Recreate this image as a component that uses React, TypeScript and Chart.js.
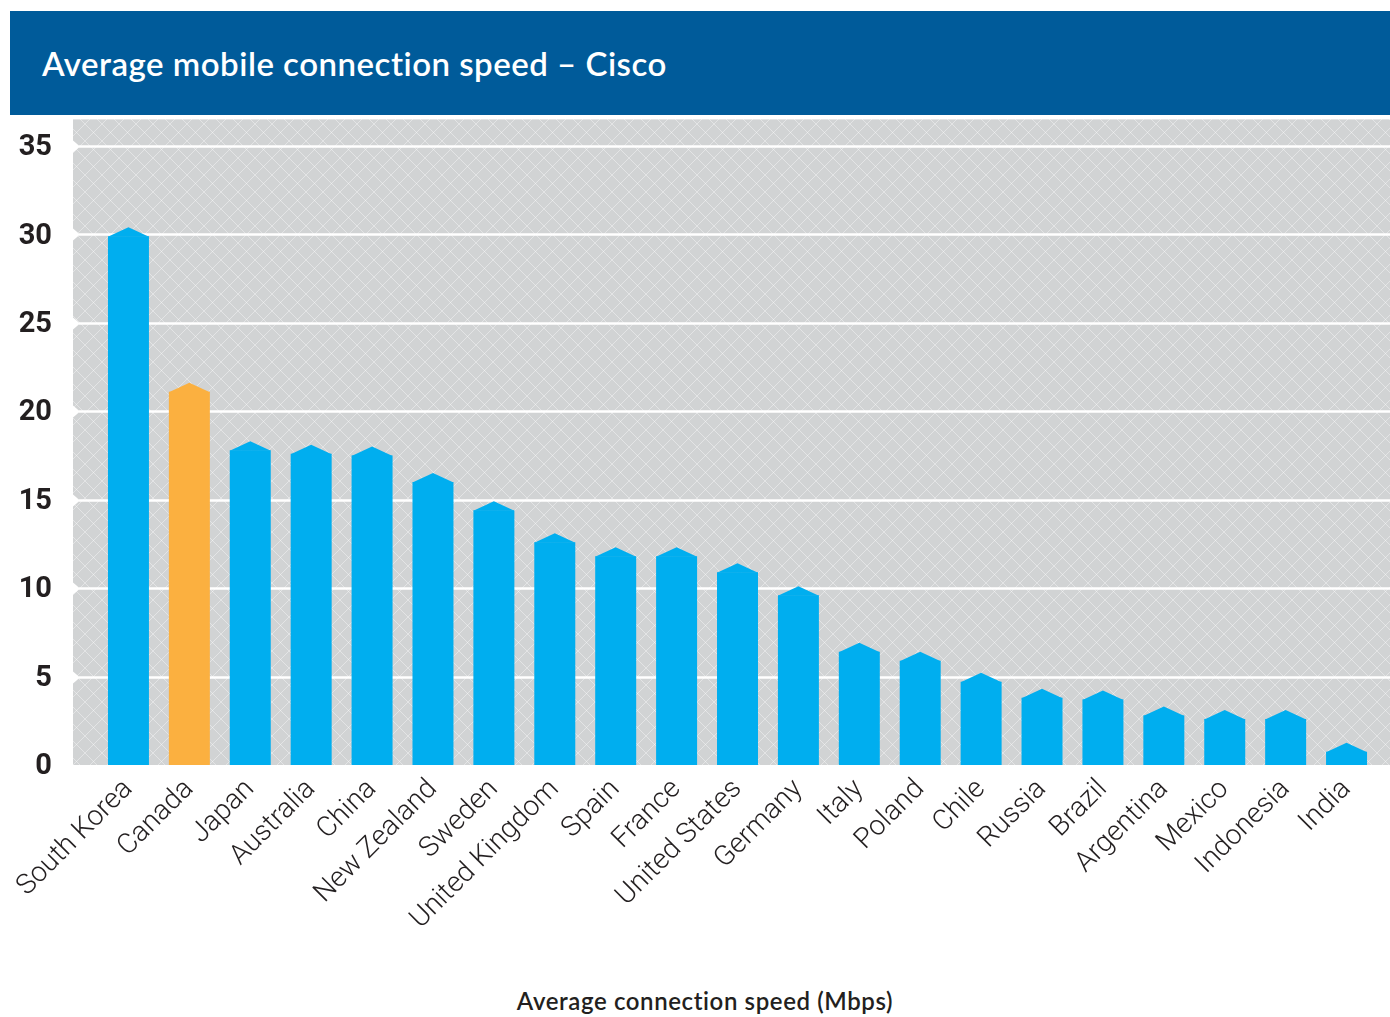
import React, { useEffect, useRef } from "react";
import { Chart, registerables } from "chart.js";

Chart.register(...registerables);

const TITLE = "Average mobile connection speed – Cisco";
const X_TITLE = "Average connection speed (Mbps)";
const countries = [
  "South Korea", "Canada", "Japan", "Australia", "China", "New Zealand", "Sweden",
  "United Kingdom", "Spain", "France", "United States", "Germany", "Italy", "Poland",
  "Chile", "Russia", "Brazil", "Argentina", "Mexico", "Indonesia", "India",
];
const speeds = [
  29.9, 21.1, 17.8, 17.6, 17.5, 16.0, 14.4, 12.6, 11.8, 11.8, 10.9, 9.6, 6.4, 5.9,
  4.7, 3.8, 3.7, 2.8, 2.6, 2.6, 0.75,
];
const highlight = "Canada";
const yMax = 36.5;
const yTicks = [0, 5, 10, 15, 20, 25, 30, 35];

const BLUE = "#00aeef";
const ORANGE = "#fbb040";
const barColors = countries.map((c) => (c === highlight ? ORANGE : BLUE));

function makePattern(ctx: CanvasRenderingContext2D) {
  const s = 17;
  const c = document.createElement("canvas");
  c.width = s;
  c.height = s;
  const p = c.getContext("2d")!;
  p.fillStyle = "#d1d3d4";
  p.fillRect(0, 0, s, s);
  p.strokeStyle = "rgba(255,255,255,0.4)";
  p.lineWidth = 1;
  p.beginPath();
  p.moveTo(0, 0);
  p.lineTo(s, s);
  p.moveTo(s, 0);
  p.lineTo(0, s);
  p.stroke();
  return ctx.createPattern(c, "repeat")!;
}

const bgPlugin = {
  id: "bgPlugin",
  beforeDraw(chart: any) {
    const { ctx, chartArea, scales } = chart;
    const left = chartArea.left - 25;
    const right = chart.width;
    ctx.save();
    ctx.fillStyle = makePattern(ctx);
    ctx.fillRect(left, chartArea.top, right - left, chartArea.bottom - chartArea.top);
    const ys = scales.y;
    ys.ticks.forEach((t: any) => {
      if (t.value === 0) return;
      const y = Math.round(ys.getPixelForValue(t.value)) + 0.5;
      ctx.strokeStyle = "#ffffff";
      ctx.lineWidth = 2.5;
      ctx.beginPath();
      ctx.moveTo(left + 6, y);
      ctx.lineTo(right, y);
      ctx.stroke();
      ctx.fillStyle = "#ffffff";
      ctx.beginPath();
      ctx.moveTo(left, y - 6);
      ctx.lineTo(left + 7, y);
      ctx.lineTo(left, y + 6);
      ctx.closePath();
      ctx.fill();
    });
    ctx.restore();
  },
};

const capPlugin = {
  id: "capPlugin",
  afterDatasetsDraw(chart: any) {
    const { ctx } = chart;
    const meta = chart.getDatasetMeta(0);
    ctx.save();
    meta.data.forEach((el: any, i: number) => {
      const { x, y, width } = el.getProps(["x", "y", "width"], true);
      ctx.fillStyle = barColors[i];
      ctx.beginPath();
      ctx.moveTo(x - width / 2, y + 0.5);
      ctx.lineTo(x, y - 9);
      ctx.lineTo(x + width / 2, y + 0.5);
      ctx.closePath();
      ctx.fill();
    });
    ctx.restore();
  },
};

function BarChart() {
  const ref = useRef<HTMLCanvasElement>(null);
  useEffect(() => {
    const chart = new Chart(ref.current!, {
      type: "bar",
      data: {
        labels: countries,
        datasets: [
          {
            data: speeds,
            backgroundColor: barColors,
            borderWidth: 0,
            barPercentage: 0.673,
            categoryPercentage: 1,
          },
        ],
      },
      options: {
        animation: false,
        responsive: false,
        maintainAspectRatio: false,
        layout: { padding: { left: 0, right: 13, top: 0, bottom: 0 } },
        plugins: { legend: { display: false }, tooltip: { enabled: false }, title: { display: false } },
        scales: {
          x: {
            offset: true,
            grid: { display: false, drawTicks: false },
            border: { display: false },
            ticks: {
              minRotation: 45,
              maxRotation: 45,
              autoSkip: false,
              padding: 8,
              color: "#231f20",
              font: { family: "Roboto", size: 28, weight: "300" as any },
            },
            afterFit: (s: any) => {
              s.height = 195;
            },
          },
          y: {
            min: 0,
            max: yMax,
            grid: { display: false, drawTicks: false },
            border: { display: false },
            ticks: {
              padding: 46,
              labelOffset: 2,
              color: "#231f20",
              font: { family: "Roboto", size: 29, weight: "bold" as any },
            },
            afterBuildTicks: (s: any) => {
              s.ticks = yTicks.map((v) => ({ value: v }));
            },
            afterFit: (s: any) => {
              s.width = 98;
            },
          },
        },
      },
      plugins: [bgPlugin, capPlugin],
    });
    return () => chart.destroy();
  }, []);
  return (
    <canvas
      ref={ref}
      width={1390}
      height={904}
      style={{ position: "absolute", left: 0, top: 56, width: 1390, height: 904 }}
    />
  );
}

export default function App() {
  return (
    <div style={{ position: "absolute", left: 0, top: 0, width: 1390, height: 1017, background: "#fff", overflow: "hidden" }}>
      <div
        style={{
          position: "absolute",
          left: 10,
          top: 11,
          width: 1380,
          height: 104,
          background: "#005b9a",
          color: "#fff",
          display: "flex",
          alignItems: "center",
          paddingLeft: 32,
          boxSizing: "border-box",
          fontFamily: "Lato, 'Open Sans', sans-serif",
          fontSize: 33,
          letterSpacing: "0.5px",
          fontWeight: 600,
        }}
      >
        {TITLE}
      </div>
      <BarChart />
      <div
        style={{
          position: "absolute",
          left: 0,
          width: 1410,
          top: 986,
          textAlign: "center",
          fontFamily: "Lato, 'Open Sans', sans-serif",
          fontSize: 24,
          letterSpacing: "0.6px",
          fontWeight: 600,
          color: "#231f20",
        }}
      >
        {X_TITLE}
      </div>
    </div>
  );
}
